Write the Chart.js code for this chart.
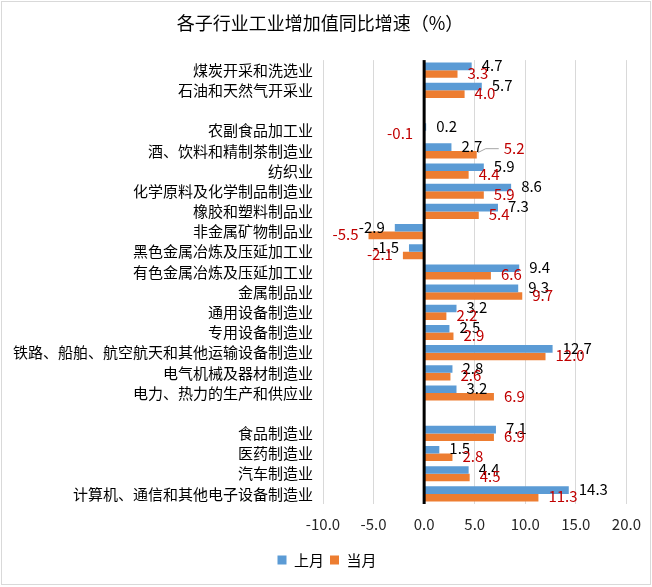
<!DOCTYPE html>
<html><head><meta charset="utf-8">
<script src="https://cdn.jsdelivr.net/npm/chart.js@4/dist/chart.umd.min.js"></script>
<style>html,body{margin:0;padding:0;background:#fff}#wrap{width:652px;height:587px}</style>
</head><body><div id="wrap"><canvas id="c" width="652" height="587"></canvas></div>
<script>
const titleText = '各子行业工业增加值同比增速（%）';
const categories = ['煤炭开采和洗选业','石油和天然气开采业','','农副食品加工业','酒、饮料和精制茶制造业','纺织业','化学原料及化学制品制造业','橡胶和塑料制品业','非金属矿物制品业','黑色金属冶炼及压延加工业','有色金属冶炼及压延加工业','金属制品业','通用设备制造业','专用设备制造业','铁路、船舶、航空航天和其他运输设备制造业','电气机械及器材制造业','电力、热力的生产和供应业','','食品制造业','医药制造业','汽车制造业','计算机、通信和其他电子设备制造业'];
const lastMonth = [4.7,5.7,null,0.2,2.7,5.9,8.6,7.3,-2.9,-1.5,9.4,9.3,3.2,2.5,12.7,2.8,3.2,null,7.1,1.5,4.4,14.3];
const thisMonth = [3.3,4.0,null,-0.1,5.2,4.4,5.9,5.4,-5.5,-2.1,6.6,9.7,2.2,2.9,12.0,2.6,6.9,null,6.9,2.8,4.5,11.3];
const seriesNames = ['上月','当月'];
const xMin = -10, xMax = 20, xStep = 5;

const FONT = '"Noto Sans CJK SC", "Noto Sans", sans-serif';
const barColors = ['#5B9BD5','#ED7D31'];
const labelColors = ['#000000','#C00000'];

const valueLabels = {
  id: 'valueLabels',
  afterLayout(chart) {
    if (chart.legend) { chart.legend.left += 13; chart.legend.right += 13; }
    if (chart.titleBlock) { chart.titleBlock.left += 6; chart.titleBlock.right += 6; }
  },
  beforeDraw(chart) {
    const ctx = chart.ctx;
    ctx.save();
    ctx.fillStyle = '#fff';
    ctx.fillRect(0, 0, chart.width, chart.height);
    ctx.strokeStyle = '#d9d9d9';
    ctx.lineWidth = 1;
    ctx.strokeRect(1.5, 1.5, chart.width - 3, chart.height - 4);
    ctx.restore();
  },
  afterDatasetsDraw(chart) {
    const ctx = chart.ctx, xs = chart.scales.x, area = chart.chartArea;
    ctx.save();
    const x0 = xs.getPixelForValue(0);
    ctx.fillStyle = '#000';
    ctx.fillRect(x0 - 1.5, area.top, 3, area.bottom - area.top);
    ctx.font = '15px ' + FONT;
    ctx.textBaseline = 'middle';
    chart.data.datasets.forEach((ds, di) => {
      const meta = chart.getDatasetMeta(di);
      meta.data.forEach((el, i) => {
        const v = ds.data[i];
        if (v === null || v === undefined) return;
        const txt = v.toFixed(1);
        let x = v >= 0 ? el.x + 10 : el.x - 10;
        let y = el.y - 1;
        ctx.textAlign = v >= 0 ? 'left' : 'right';
        if (di === 1 && i === 4) {
          // label moved away with a leader line
          const lx = el.x + 27, ly = el.y - 6;
          ctx.strokeStyle = '#a6a6a6';
          ctx.lineWidth = 1;
          ctx.beginPath();
          ctx.moveTo(el.x + 1, el.y - 2);
          ctx.lineTo(el.x + 9, ly);
          ctx.lineTo(lx - 5, ly);
          ctx.stroke();
          x = lx; y = ly;
        }
        ctx.fillStyle = labelColors[di];
        ctx.fillText(txt, x, y);
      });
    });
    ctx.restore();
  }
};

Chart.defaults.font.family = FONT;

new Chart(document.getElementById('c'), {
  type: 'bar',
  data: {
    labels: categories,
    datasets: [
      { label: seriesNames[0], data: lastMonth, backgroundColor: barColors[0], borderWidth: 0, categoryPercentage: 0.75, barPercentage: 1.0 },
      { label: seriesNames[1], data: thisMonth, backgroundColor: barColors[1], borderWidth: 0, categoryPercentage: 0.75, barPercentage: 1.0 }
    ]
  },
  options: {
    indexAxis: 'y',
    responsive: false,
    animation: false,
    devicePixelRatio: 1,
    layout: { padding: { top: 0, right: 24, bottom: 9.5, left: 0 } },
    plugins: {
      title: { display: true, text: titleText, color: '#000', font: { size: 18, weight: 'normal' }, padding: { top: 12.5, bottom: 26 } },
      legend: { position: 'bottom', labels: { boxWidth: 9, boxHeight: 9, padding: 6, color: '#000', font: { size: 15 } } },
      tooltip: { enabled: false }
    },
    scales: {
      x: {
        min: xMin, max: xMax,
        ticks: { stepSize: xStep, callback: v => Number(v).toFixed(1), color: '#262626', font: { size: 15 }, padding: 11, maxRotation: 0 },
        grid: { drawTicks: false, color: c => (c.tick && c.tick.value === 0) ? 'rgba(0,0,0,0)' : '#d9d9d9', lineWidth: 1 },
        border: { display: false },
        afterFit(s) { s.height = 42.5; }
      },
      y: {
        grid: { display: false },
        border: { display: false },
        ticks: { autoSkip: false, color: '#000', font: { size: 15 }, padding: 2 },
        afterFit(s) { s.width = 323; }
      }
    }
  },
  plugins: [valueLabels]
});
</script>
</body></html>
